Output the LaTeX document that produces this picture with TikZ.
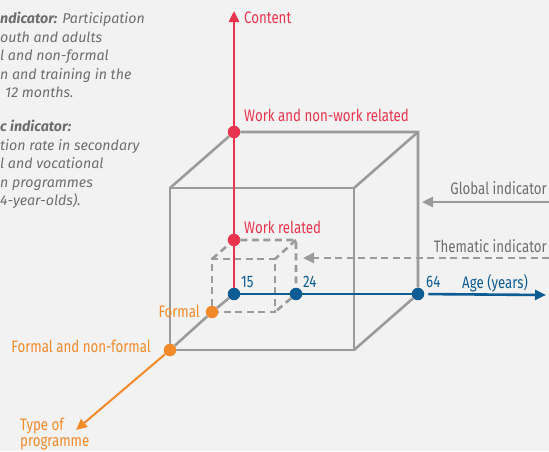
\documentclass[tikz,border=0pt]{standalone}
\usepackage{fontspec}
\setmainfont{Fira Sans}
\newfontfamily\labelfont[FakeStretch=0.8]{Fira Sans}
\usetikzlibrary{arrows.meta}
\definecolor{bgcol}{HTML}{F1F2F1}
\definecolor{cubegray}{HTML}{9B9B9B}
\definecolor{textgray}{HTML}{6E6E6E}
\definecolor{contentred}{HTML}{E8344E}
\definecolor{ageblue}{HTML}{0E5C94}
\definecolor{progorange}{HTML}{F28A2A}

\begin{document}
\begin{tikzpicture}[
        x=1pt, y=-1pt,
        dot/.style={circle, fill=#1, inner sep=0pt, minimum size=12.5pt},
        cubeedge/.style={draw=cubegray, line width=2.6pt},
        hiddenedge/.style={cubeedge, dash pattern=on 7pt off 4.5pt},
        axis/.style={draw=#1, line width=2.6pt},
        tip/.style={-{Triangle[width=10pt,length=11pt]}},
        lbl/.style={font=\labelfont\fontsize{16.6}{18}\selectfont, text=#1, inner sep=0pt},
        note/.style={font=\itshape\fontsize{14.2}{18.5}\selectfont, text=textgray,
            inner sep=0pt, align=left, anchor=north west},
    ]
        \useasboundingbox (0,0) rectangle (549,451);
        \fill[bgcol] (0,0) rectangle (549,451);

        \coordinate (ftl) at (170,188);
        \coordinate (ftr) at (354,188);
        \coordinate (fbr) at (354,350);
        \coordinate (btr) at (418,132);
        \coordinate (sbtr) at (296,240);
        \coordinate (sftl) at (212,259);
        \coordinate (sftr) at (275,259);
        \coordinate (sfbr) at (275,312);
        \coordinate (contentTip) at (234,11);
        \coordinate (ageTip) at (546,295);
        \coordinate (progTip) at (76,430);
        \coordinate (globalStart) at (549,202);
        \coordinate (globalTip) at (422,202);
        \coordinate (thematicStart) at (549,258);
        \coordinate (thematicTip) at (303,258);

        \node[dot=contentred] (wnw) at (234,132) {};
        \node[dot=contentred] (wr) at (234,240) {};
        \node[dot=ageblue] (a15) at (234,294) {};
        \node[dot=ageblue] (a24) at (296,294) {};
        \node[dot=ageblue] (a64) at (418,294) {};
        \node[dot=progorange] (formal) at (212,312) {};
        \node[dot=progorange] (fnf) at (170,350) {};

        \draw[cubeedge] (fnf) -- (ftl) -- (ftr) -- (fbr) -- (fnf);
        \draw[cubeedge] (ftl) -- (wnw) -- (btr) -- (a64);
        \draw[cubeedge] (btr) -- (ftr);
        \draw[cubeedge] (a64) -- (fbr);
        \draw[cubeedge] (a15) -- (formal) -- (fnf);

        \draw[hiddenedge] (formal) -- (sftl) -- (sftr) -- (sfbr) -- (formal);
        \draw[hiddenedge] (sftl) -- (wr) -- (sbtr) -- (a24);
        \draw[hiddenedge] (sbtr) -- (sftr);
        \draw[hiddenedge] (a24) -- (sfbr);

        \draw[axis=contentred] (a15) -- (wr);
        \draw[axis=contentred] (wr) -- (wnw);
        \draw[axis=contentred, tip] (wnw) -- (contentTip);
        \draw[axis=ageblue] (a15) -- (a24);
        \draw[axis=ageblue] (a24) -- (a64);
        \draw[axis=ageblue, tip, shorten <=4pt] (a64) -- (ageTip);
        \draw[axis=progorange, line width=2pt, tip] (fnf) -- (progTip);

        \draw[cubeedge, tip] (globalStart) -- (globalTip);
        \draw[hiddenedge, tip] (thematicStart) -- (thematicTip);

        \node[lbl=contentred, anchor=west] (lContent) at (244,18) {Content};
        \node[lbl=contentred, anchor=west] (lWnw) at (244,115) {Work and non-work related};
        \node[lbl=contentred, anchor=west] (lWr) at (244,227) {Work related};
        \node[lbl=ageblue, anchor=west] (l15) at (241,282) {15};
        \node[lbl=ageblue, anchor=west] (l24) at (303,282) {24};
        \node[lbl=ageblue, anchor=west] (l64) at (426,282) {64};
        \node[lbl=ageblue, anchor=west] (lAge) at (462,283) {Age (years)};
        \node[lbl=progorange, anchor=east] (lFormal) at (200,311) {Formal};
        \node[lbl=progorange, anchor=east] (lFnf) at (151,346) {Formal and non-formal};
        \node[lbl=progorange, anchor=south west, align=left,
            font=\labelfont\fontsize{16.6}{16}\selectfont] (lProg) at (20,450) {Type of\\programme};
        \node[lbl=textgray, anchor=east] (lGlobal) at (547,188) {Global indicator};
        \node[lbl=textgray, anchor=east] (lThematic) at (547,246) {Thematic indicator};

        \node[note] (globalNote) at (0,12) {\textbf{ndicator:} Participation\\outh and adults\\l and non-formal\\n and training in the\\\hspace*{5pt}12 months.};
        \node[note] (thematicNote) at (0,120) {\textbf{c indicator:}\\tion rate in secondary\\l and vocational\\n programmes\\4-year-olds).};
    \end{tikzpicture}
\end{document}
